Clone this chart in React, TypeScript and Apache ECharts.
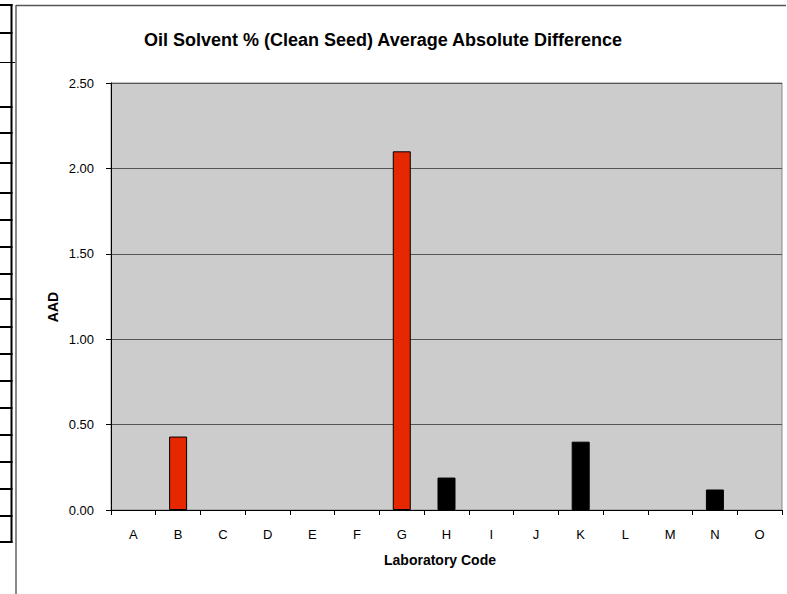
import React, { useEffect, useRef } from "react";
import * as echarts from "echarts";

const categories = ["A", "B", "C", "D", "E", "F", "G", "H", "I", "J", "K", "L", "M", "N", "O"];
// Labs flagged (red bars)
const flaggedValues: (number | null)[] = [null, 0.43, null, null, null, null, 2.1, null, null, null, null, null, null, null, null];
// Other labs (black bars)
const otherValues: (number | null)[] = [null, null, null, null, null, null, null, 0.19, null, null, 0.4, null, null, 0.12, null];
const yMin = 0;
const yMax = 2.5;
const yInterval = 0.5;

const titleText = "Oil Solvent % (Clean Seed) Average Absolute Difference";
const yAxisTitle = "AAD";
const xAxisTitle = "Laboratory Code";

const FONT = "'Liberation Sans', Arial, sans-serif";

export default function App() {
  const ref = useRef<HTMLDivElement>(null);
  useEffect(() => {
    if (!ref.current) return;
    const chart = echarts.init(ref.current, undefined, { renderer: "svg" });
    const tableTicks = [5, 33, 107, 133, 163, 193, 220, 247, 274, 299, 327, 354, 381, 408, 435, 462, 489, 516, 542];
    const graphics: any[] = [
      { type: "line", shape: { x1: 11.5, y1: 4, x2: 11.5, y2: 543 }, style: { stroke: "#000", lineWidth: 2 } },
      { type: "line", shape: { x1: 0, y1: 62.5, x2: 16, y2: 62.5 }, style: { stroke: "#000", lineWidth: 1 } },
      ...tableTicks.map((y) => ({
        type: "line",
        shape: { x1: 0, y1: y, x2: 12.5, y2: y },
        style: { stroke: "#000", lineWidth: 2 },
      })),
      { type: "line", shape: { x1: 16, y1: 5, x2: 16, y2: 594 }, style: { stroke: "#8a8a8a", lineWidth: 2 } },
      { type: "line", shape: { x1: 16, y1: 5.5, x2: 786, y2: 5.5 }, style: { stroke: "#555", lineWidth: 1.5 } },
      {
        type: "text",
        x: 383,
        y: 40,
        style: { text: titleText, font: `bold 18px ${FONT}`, fill: "#000", align: "center", verticalAlign: "middle" },
      },
      {
        type: "text",
        x: 53,
        y: 307,
        rotation: Math.PI / 2,
        style: { text: yAxisTitle, font: `bold 14px ${FONT}`, fill: "#000", align: "center", verticalAlign: "middle" },
      },
      {
        type: "text",
        x: 440,
        y: 560,
        style: { text: xAxisTitle, font: `bold 14px ${FONT}`, fill: "#000", align: "center", verticalAlign: "middle" },
      },
    ];
    chart.setOption({
      animation: false,
      backgroundColor: "#fff",
      grid: {
        left: 111,
        top: 83,
        width: 671,
        height: 427,
        show: true,
        backgroundColor: "#CCCCCC",
        borderColor: "#888",
        borderWidth: 1,
      },
      xAxis: {
        type: "category",
        data: categories,
        boundaryGap: true,
        axisLine: { show: true, lineStyle: { color: "#000", width: 1 } },
        axisTick: { show: true, length: 5, lineStyle: { color: "#000" } },
        axisLabel: { color: "#000", fontSize: 13, fontFamily: FONT, margin: 18 },
        splitLine: { show: false },
      },
      yAxis: {
        type: "value",
        min: yMin,
        max: yMax,
        interval: yInterval,
        axisLine: { show: true, lineStyle: { color: "#000", width: 1 } },
        axisTick: { show: true, length: 5, lineStyle: { color: "#000" } },
        axisLabel: {
          color: "#000",
          fontSize: 13,
          fontFamily: FONT,
          margin: 17,
          formatter: (v: number) => v.toFixed(2),
        },
        splitLine: { show: true, lineStyle: { color: "#555", width: 1 } },
      },
      series: [
        {
          type: "bar",
          data: flaggedValues,
          barWidth: 18,
          barGap: "-100%",
          itemStyle: { color: "#E52800", borderColor: "#000", borderWidth: 1 },
        },
        {
          type: "bar",
          data: otherValues,
          barWidth: 18,
          barGap: "-100%",
          itemStyle: { color: "#000", borderColor: "#000", borderWidth: 1 },
        },
      ],
      graphic: graphics,
    });
    return () => chart.dispose();
  }, []);
  return <div ref={ref} style={{ position: "absolute", left: 0, top: 0, width: 787, height: 594 }} />;
}
